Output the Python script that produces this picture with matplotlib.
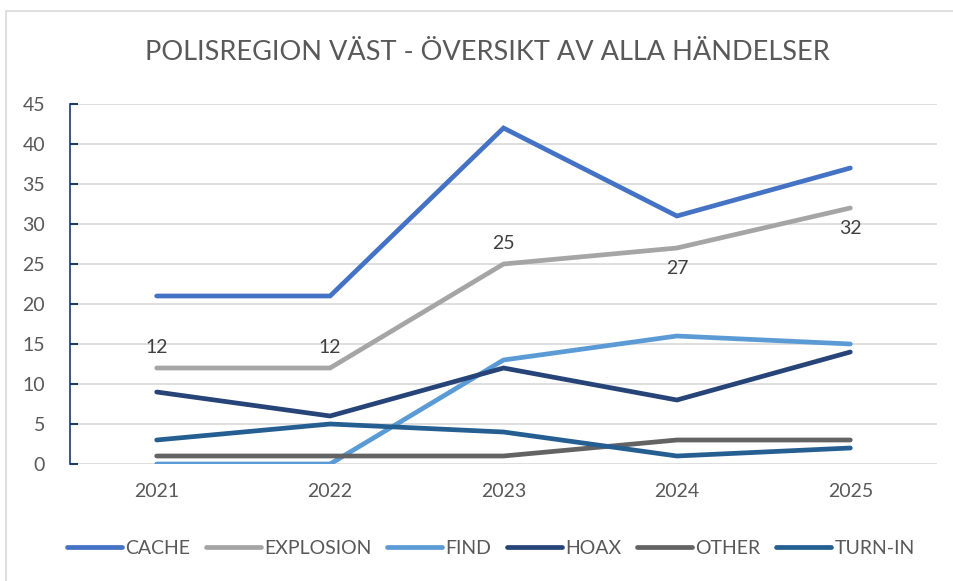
import numpy as np
import matplotlib as mpl
mpl.use("Agg")
import matplotlib.pyplot as plt
from matplotlib.patches import Rectangle

plt.rcParams['font.family'] = ['Lato', 'DejaVu Sans']

# event counts per year
years = ['2021', '2022', '2023', '2024', '2025']
cache = [21, 21, 42, 31, 37]
explosion = [12, 12, 25, 27, 32]
find = [0, 0, 13, 16, 15]
hoax = [9, 6, 12, 8, 14]
other = [1, 1, 1, 3, 3]
turn_in = [3, 5, 4, 1, 2]

series_names = ['CACHE', 'EXPLOSION', 'FIND', 'HOAX', 'OTHER', 'TURN-IN']
series_vals = [cache, explosion, find, hoax, other, turn_in]
colors = ['#4472C4', '#A5A5A5', '#5B9BD5', '#264478', '#636363', '#255E91']

# which explosion labels sit above (+1) or below (-1) the line
label_side = [1, 1, 1, -1, -1]

text_color = '#595959'
grid_color = '#D9D9D9'

fig = plt.figure(figsize=(9.54, 5.81), dpi=100)
ax = fig.add_axes([70/954, 1 - 464/581, (937 - 70)/954, (464 - 104)/581])

# outer chart frame
fig.patches.append(Rectangle((6/954, -0.1), 1.2, 1 - 11/581 + 0.1,
                             transform=fig.transFigure, fill=False,
                             edgecolor='#D9D9D9', linewidth=1.2))

x = np.arange(len(years)) + 0.5
handles = []
for name, vals, col in zip(series_names, series_vals, colors):
    h, = ax.plot(x, vals, color=col, linewidth=3.4, solid_capstyle='round',
                 solid_joinstyle='miter', label=name, zorder=3)
    handles.append(h)

for xi, v, side in zip(x, explosion, label_side):
    ax.annotate(str(v), (xi, v), xytext=(0, 15 * side), textcoords='offset points',
                ha='center', va='center', fontsize=14, color='#404040')

ax.set_xlim(0, len(years))
ax.set_ylim(0, 45)
ax.set_yticks(np.arange(0, 50, 5))
ax.set_xticks(x)
ax.set_xticklabels(years)
ax.yaxis.grid(True, color=grid_color, linewidth=1.2)
ax.set_axisbelow(True)

for s in ['top', 'right', 'bottom']:
    ax.spines[s].set_visible(False)
ax.spines['left'].set_color('#1F3864')
ax.spines['left'].set_linewidth(1.2)

ax.tick_params(axis='y', direction='in', length=6, width=1.5, color='#1F3864',
               labelsize=14, labelcolor=text_color, pad=18)
ax.tick_params(axis='x', length=0, labelsize=14, labelcolor=text_color, pad=14)

fig.text(487/954, 1 - 52/581, 'POLISREGION VÄST - ÖVERSIKT AV ALLA HÄNDELSER',
         ha='center', va='center', fontsize=19.5, color=text_color)

fig.legend(handles=handles, loc='center', bbox_to_anchor=(491/954, 1 - 548/581),
           ncol=6, frameon=False, fontsize=14, labelcolor=text_color,
           handlelength=2.8, handletextpad=0.2, columnspacing=0.8)

fig.savefig('out.png', dpi=100)
